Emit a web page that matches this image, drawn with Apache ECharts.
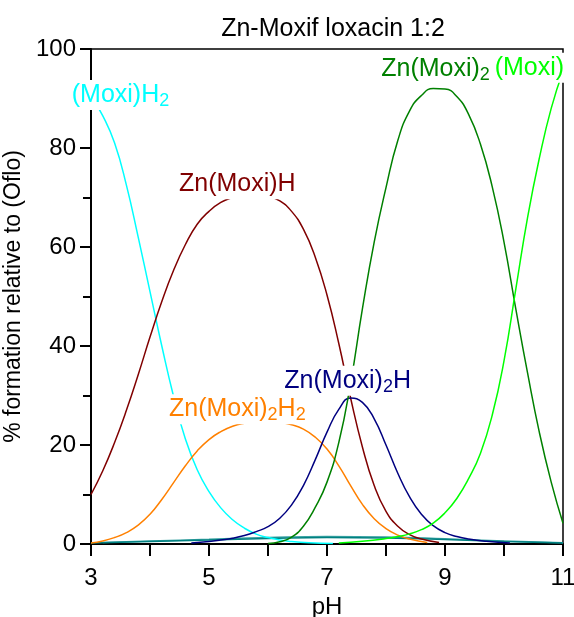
<!DOCTYPE html>
<html>
<head>
<meta charset="utf-8">
<script src="https://cdn.jsdelivr.net/npm/echarts@6/dist/echarts.min.js"></script>
<style>
html,body{margin:0;padding:0;background:#fff;}
#chart{width:574px;height:617px;}
</style>
</head>
<body>
<div id="chart"></div>
<script>
// ---- data (pH, % formation) ----
var moxiH2_pH   = [3.0,3.2,3.4,3.6,3.8,4.0,4.2,4.4,4.6,4.8,5.0,5.2,5.4,5.6,5.8,6.0,6.2,6.4,6.7,7.1];
var moxiH2_pct  = [90.5,86.5,81,72.5,62,51,40,29.8,21.2,15,10.6,7.3,4.9,3.2,2.0,1.3,0.8,0.5,0.25,0.1];

var znMoxiH_pH  = [3.0,3.2,3.4,3.6,3.8,4.0,4.2,4.4,4.6,4.8,5.0,5.2,5.4,5.6,5.8,6.0,6.2,6.4,6.6,6.8,7.0,7.2,7.4,7.6,7.8,8.0,8.2,8.4,8.6,8.9];
var znMoxiH_pct = [10,14.8,20.5,27,34.2,41.8,49,55.3,60.5,64.6,67.2,69,70,70.6,70.7,70.3,69.3,67.2,63.6,58,50.3,40.5,29.5,19.6,11.8,6.6,3.6,1.9,1.0,0.3];

var znMoxi2H2_pH  = [3.0,3.2,3.4,3.6,3.8,4.0,4.2,4.4,4.6,4.8,5.0,5.2,5.4,5.6,5.8,6.0,6.2,6.4,6.6,6.8,7.0,7.2,7.4,7.6,7.8,8.0,8.2,8.4,8.7];
var znMoxi2H2_pct = [0.2,0.6,1.3,2.3,3.8,6,9,12.4,15.8,18.8,21.1,22.7,23.8,24.4,24.7,24.8,24.6,24.1,23.2,21.6,19.2,15.8,11.8,8.0,5.1,3.1,1.8,1.0,0.3];

var znMoxi2H_pH  = [4.7,5.0,5.2,5.4,5.6,5.8,6.0,6.2,6.4,6.6,6.8,7.0,7.2,7.4,7.6,7.8,8.0,8.2,8.4,8.6,8.8,9.0,9.2,9.4,9.7,10.1];
var znMoxi2H_pct = [0.2,0.5,0.8,1.15,1.7,2.5,3.5,5.2,7.9,11.8,17,22.6,27.2,29.5,28.6,25.3,20,14.3,9.5,6.0,3.7,2.3,1.5,1.0,0.55,0.2];

var znMoxi2_pH  = [6.0,6.2,6.4,6.6,6.8,7.0,7.2,7.4,7.6,7.8,8.0,8.2,8.4,8.6,8.8,9.0,9.2,9.4,9.6,9.8,10.0,10.2,10.4,10.6,10.8,11.0];
var znMoxi2_pct = [0.1,0.45,1.4,3.6,7.4,12.5,20.5,32.5,47.5,61,72,81.5,87.5,90.6,92,91.9,90.4,86.8,80.8,72.2,61,47.5,34.5,22.5,12.5,4.2];

var moxi_pH  = [7.2,7.6,8.0,8.2,8.4,8.6,8.8,9.0,9.2,9.4,9.6,9.8,10.0,10.2,10.4,10.6,10.8,11.0];
var moxi_pct = [0.2,0.55,1.1,1.5,2.05,2.9,4.2,6.3,9.2,13.2,18.3,26,37,51.5,66,78,88,95.5];

var tealA_pH  = [3.0,4.0,5.0,6.0,7.0,8.0,9.0,10.0,11.0];
var tealA_pct = [0.2,0.5,0.8,1.1,1.3,1.2,0.9,0.5,0.2];
var tealB_pH  = [3.2,4.0,5.0,6.0,7.0,8.0,9.0,10.0,11.0];
var tealB_pct = [0.3,0.6,0.95,1.3,1.5,1.4,1.05,0.6,0.25];

// species label anchors (pH, %)
var labelNames = ['(Moxi)H2','Zn(Moxi)H','Zn(Moxi)2H2','Zn(Moxi)2H','Zn(Moxi)2','(Moxi)'];
var labelPH    = [3.50, 5.48, 5.48, 7.35, 8.84, 10.43];
var labelPct   = [90.7, 72.7, 27.2, 33.0, 96.0, 96.2];

var xTicks = [3,5,7,9,11];
var yTicks = [0,20,40,60,80,100];

var FONT = '"Liberation Sans", Arial, sans-serif';

function zip(a,b){ return a.map(function(v,i){ return [v,b[i]]; }); }

var colors = {
  '(Moxi)H2':'#00FFFF', 'Zn(Moxi)H':'#800000', 'Zn(Moxi)2H2':'#FF8000',
  'Zn(Moxi)2H':'#000080', 'Zn(Moxi)2':'#008000', '(Moxi)':'#00FF00'
};
var richFmt = {
  '(Moxi)H2':'{m|(Moxi)H}{s|2}', 'Zn(Moxi)H':'{m|Zn(Moxi)H}',
  'Zn(Moxi)2H2':'{m|Zn(Moxi)}{s|2}{m|H}{s|2}', 'Zn(Moxi)2H':'{m|Zn(Moxi)}{s|2}{m|H}',
  'Zn(Moxi)2':'{m|Zn(Moxi)}{s|2}', '(Moxi)':'{m|(Moxi)}'
};

function lineSeries(name, xs, ys, color){
  return {
    name:name, type:'line', data:zip(xs,ys), showSymbol:false, symbol:'none',
    smooth:0.5,
    lineStyle:{color:color, width:1.5, opacity:1}, itemStyle:{color:color}, z:2, silent:true
  };
}

var labelData = labelNames.map(function(n,i){
  var c = colors[n];
  return {
    value:[labelPH[i], labelPct[i]],
    label:{
      show:true, position:'inside', formatter:richFmt[n],
      backgroundColor:'#ffffff', opacity:1,
      rich:{
        m:{fontSize:25, color:c, fontFamily:FONT, lineHeight:30},
        s:{fontSize:18, color:c, fontFamily:FONT, verticalAlign:'bottom', lineHeight:18}
      }
    }
  };
});

var chart = echarts.init(document.getElementById('chart'), null, {renderer:'canvas'});
chart.setOption({
  animation:false,
  backgroundColor:'#ffffff',
  title:{
    text:'Zn-Moxif loxacin 1:2', left:328, top:12, textAlign:'center',
    textStyle:{fontFamily:FONT, fontSize:25, fontWeight:'normal', color:'#000'}
  },
  grid:{left:91, right:11, top:49, bottom:73, containLabel:false, outerBoundsMode:'none',
        show:true, borderColor:'#000', borderWidth:1.5, backgroundColor:'transparent'},
  xAxis:{
    type:'value', min:3, max:11, interval:1,
    name:'pH', nameLocation:'middle', nameGap:49,
    nameTextStyle:{fontFamily:FONT, fontSize:24, color:'#000'},
    axisLine:{show:true, lineStyle:{color:'#000', width:2}},
    axisTick:{show:true, inside:false, length:12, lineStyle:{color:'#000', width:2}},
    axisLabel:{
      margin:22, fontFamily:FONT, fontSize:24, color:'#000', hideOverlap:false,
      formatter:function(v){ return xTicks.indexOf(v) >= 0 ? String(v) : ''; }
    },
    splitLine:{show:false}
  },
  yAxis:{
    type:'value', min:0, max:100, interval:20,
    name:'% formation relative to (Oflo)', nameLocation:'middle', nameGap:60, nameRotate:90,
    nameTextStyle:{fontFamily:FONT, fontSize:23, color:'#000'},
    axisLine:{show:true, lineStyle:{color:'#000', width:2}},
    axisTick:{show:true, inside:false, length:11, lineStyle:{color:'#000', width:2}},
    minorTick:{show:true, splitNumber:2, length:8, lineStyle:{color:'#000', width:2}},
    axisLabel:{
      margin:15, fontFamily:FONT, fontSize:24, color:'#000', hideOverlap:false,
      formatter:function(v){ return yTicks.indexOf(v) >= 0 ? String(v) : ''; }
    },
    splitLine:{show:false}, minorSplitLine:{show:false}
  },
  series:[
    lineSeries('tealB', tealB_pH, tealB_pct, '#3aa3a3'),
    lineSeries('tealA', tealA_pH, tealA_pct, '#008080'),
    lineSeries('(Moxi)H2', moxiH2_pH, moxiH2_pct, '#00FFFF'),
    lineSeries('Zn(Moxi)H', znMoxiH_pH, znMoxiH_pct, '#800000'),
    lineSeries('Zn(Moxi)2H2', znMoxi2H2_pH, znMoxi2H2_pct, '#FF8000'),
    lineSeries('Zn(Moxi)2H', znMoxi2H_pH, znMoxi2H_pct, '#000080'),
    lineSeries('Zn(Moxi)2', znMoxi2_pH, znMoxi2_pct, '#008000'),
    lineSeries('(Moxi)', moxi_pH, moxi_pct, '#00FF00'),
    {
      name:'labels', type:'scatter', data:labelData, symbolSize:0, silent:true, z:10, clip:false,
      itemStyle:{color:'#ffffff', opacity:1}
    }
  ]
});
</script>
</body>
</html>
